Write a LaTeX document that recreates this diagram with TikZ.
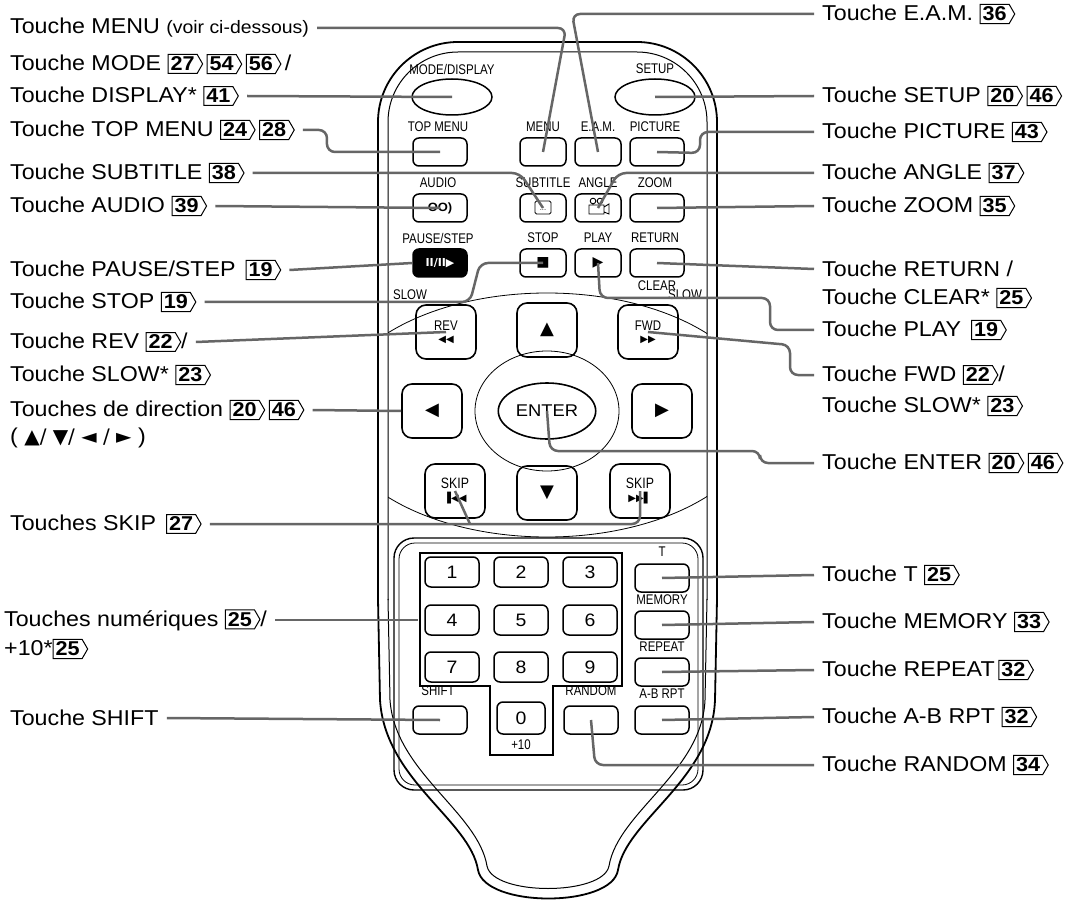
\documentclass[tikz,border=0pt]{standalone}
\usepackage{fontspec}
\setmainfont[FakeStretch=1.08]{Liberation Sans}
\newfontfamily\narrowf[FakeStretch=0.82]{Liberation Sans}
\newfontfamily\sym{DejaVu Sans}
\usetikzlibrary{shapes.symbols,shapes.geometric}
\newcommand{\pg}[1]{\tikz[baseline=(pp.base)]\node[signal,signal to=east,signal pointer angle=120,draw,line width=1pt,inner xsep=2.5pt,inner ysep=2.5pt,font=\bfseries\fontsize{20}{20}\selectfont] (pp) {#1};}
\begin{document}
\begin{tikzpicture}[x=1pt,y=-1pt,
  lab/.style={anchor=west,inner sep=0pt,font=\fontsize{21.5}{24}\selectfont},
  lead/.style={draw=black!60,line width=2.5pt,rounded corners=8pt},
  btn/.style={draw,line width=1.5pt,rounded corners=6pt,minimum width=54pt,minimum height=28pt,inner sep=0pt},
  sbtn/.style={btn,minimum width=46pt},
  oval/.style={draw,line width=1.5pt,ellipse,minimum width=80pt,minimum height=36pt},
  tl/.style={font=\narrowf\fontsize{14}{14}\selectfont,inner sep=0pt,yshift=3pt},
  pad/.style={draw,line width=1.6pt,rounded corners=10pt,minimum width=60pt,minimum height=54pt,inner sep=0pt,font=\sym\fontsize{18}{18}\selectfont},
  num/.style={btn,minimum width=54pt,minimum height=30pt,font=\fontsize{18}{18}\selectfont}]
\useasboundingbox[fill=white] (0,0) rectangle (1079,909);
% remote body
\draw[line width=1.8pt,rounded corners=80pt] (378,600) -- (378,42) -- (717,42) -- (717,600);
\draw[line width=1.8pt] (378,599) -- (380,700) .. controls (385,780) and (470,820) .. (478,870) .. controls (485,908) and (612,908) .. (618,870) .. controls (626,820) and (712,780) .. (715,700) -- (717,599);
\draw[line width=1pt,rounded corners=70pt] (388,600) -- (388,52) -- (707,52) -- (707,600);
\draw[line width=1pt] (388,599) -- (390,700) .. controls (395,772) and (478,812) .. (487,866) .. controls (493,896) and (603,896) .. (609,866) .. controls (618,812) and (702,772) .. (705,700) -- (707,599);
% d-pad region
\begin{scope}
\clip (388,52) rectangle (707,600);
\draw[line width=0.8pt] (547,415) ellipse (215pt and 122pt);
\end{scope}
\draw[line width=0.8pt] (547,411) ellipse (72pt and 60pt);
% top buttons
\node[tl] (tmode) at (452,72) {MODE/DISPLAY};
\node[oval] (bmode) at (452,97) {};
\node[tl] (tsetup) at (655,72) {SETUP};
\node[oval] (bsetup) at (655,97) {};
\node[tl] (ttop) at (438,130) {TOP MENU};
\node[btn] (btop) at (440,152) {};
\node[tl] (tmenu) at (543,130) {MENU};
\node[sbtn] (bmenu) at (543,152) {};
\node[tl] (team) at (598,130) {E.A.M.};
\node[sbtn] (beam) at (598,152) {};
\node[tl] (tpic) at (655,130) {PICTURE};
\node[btn] (bpic) at (657,152) {};
\node[tl] (taudio) at (438,186) {AUDIO};
\node[btn,font=\bfseries\fontsize{12}{12}\selectfont] (baudio) at (440,208) {OO)};
\node[tl] (tsub) at (543,186) {SUBTITLE};
\node[sbtn] (bsub) at (543,208) {};
\draw[line width=0.9pt,rounded corners=1.5pt] (535,201) rectangle (551,214);
\node[font=\fontsize{7}{7}\selectfont,inner sep=0pt] (dots) at (543,210) {...};
\node[tl] (tang) at (598,186) {ANGLE};
\node[sbtn] (bang) at (598,208) {};
\draw[line width=0.9pt] (589,205) rectangle (604,214) (593,201) circle (2.8pt) (600,201) circle (2.8pt) (604,207) -- (609,204) -- (609,214) -- (604,212);
\node[tl] (tzoom) at (655,186) {ZOOM};
\node[btn] (bzoom) at (657,208) {};
\node[tl] (tpause) at (438,241) {PAUSE/STEP};
\node[btn,fill=black,text=white,font=\sym\bfseries\fontsize{11}{11}\selectfont] (bpause) at (440,263) {II/II▶};
\node[tl] (tstop) at (543,241) {STOP};
\node[sbtn,font=\sym\fontsize{14}{14}\selectfont] (bstop) at (543,263) {■};
\node[tl] (tplay) at (598,241) {PLAY};
\node[sbtn,font=\sym\fontsize{14}{14}\selectfont] (bplay) at (598,263) {▶};
\node[tl] (tret) at (655,241) {RETURN};
\node[btn] (bret) at (657,263) {};
\node[tl] (tclr) at (657,289) {CLEAR};
% d-pad buttons
\node[tl] (tslowl) at (410,298) {SLOW};
\node[tl] (tslowr) at (685,298) {SLOW};
\node[pad,align=center,font=\narrowf\fontsize{14}{14}\selectfont] (brev) at (446,332) {REV\\[-2pt]{\sym\fontsize{10}{10}\selectfont ◀◀}};
\node[pad,align=center,font=\narrowf\fontsize{14}{14}\selectfont] (bfwd) at (648,332) {FWD\\[-2pt]{\sym\fontsize{10}{10}\selectfont ▶▶}};
\node[pad] (bup) at (547,330) {▲};
\node[pad] (bdown) at (547,493) {▼};
\node[pad] (bleft) at (432,411) {◀};
\node[pad] (bright) at (662,411) {▶};
\node[draw,line width=1.6pt,ellipse,minimum width=80pt,minimum height=56pt,font=\fontsize{17}{17}\selectfont] (benter) at (547,411) {ENTER};
\node[pad,align=center,font=\narrowf\fontsize{15}{15}\selectfont] (bskl) at (455,491) {SKIP\\[-2pt]{\sym\fontsize{10}{10}\selectfont ▐◀◀}};
\node[pad,align=center,font=\narrowf\fontsize{15}{15}\selectfont] (bskr) at (640,491) {SKIP\\[-2pt]{\sym\fontsize{10}{10}\selectfont ▶▶▌}};
% number block
\draw[line width=1.4pt,rounded corners=20pt] (394,538) rectangle (703,790);
\draw[line width=0.8pt,rounded corners=16pt] (399,543) rectangle (698,785);
\draw[line width=1.4pt] (420,553) -- (622,553) -- (622,686) -- (553,686) -- (553,755) -- (490,755) -- (490,686) -- (420,686) -- cycle;
\node[num] (n1) at (452,572) {1};
\node[num] (n2) at (521,572) {2};
\node[num] (n3) at (590,572) {3};
\node[num] (n4) at (452,620) {4};
\node[num] (n5) at (521,620) {5};
\node[num] (n6) at (590,620) {6};
\node[num] (n7) at (452,667) {7};
\node[num] (n8) at (521,667) {8};
\node[num] (n9) at (590,667) {9};
\node[btn,minimum width=48pt,minimum height=32pt,font=\fontsize{18}{18}\selectfont] (n0) at (521,718) {0};
\node[tl] (t10) at (521,748) {+10};
\node[tl] (tshift) at (438,694) {SHIFT};
\node[btn] (bshift) at (440,720) {};
\node[tl] (trand) at (591,694) {RANDOM};
\node[btn] (brand) at (591,720) {};
\node[tl] (tt) at (662,555) {T};
\node[btn] (bt) at (662,578) {};
\node[tl] (tmem) at (662,603) {MEMORY};
\node[btn] (bmem) at (662,625) {};
\node[tl] (trep) at (662,650) {REPEAT};
\node[btn] (brep) at (662,672) {};
\node[tl] (tab) at (662,697) {A-B RPT};
\node[btn] (bab) at (662,720) {};
% left labels
\node[lab] (l1) at (10,28) {Touche MENU {\fontsize{18}{18}\selectfont(voir ci-dessous)}};
\node[lab] (l2) at (10,64) {Touche MODE \pg{27}\,\pg{54}\,\pg{56}\,/};
\node[lab] (l2b) at (10,96) {Touche DISPLAY* \pg{41}};
\node[lab] (l3) at (10,130) {Touche TOP MENU \pg{24}\,\pg{28}};
\node[lab] (l4) at (10,173) {Touche SUBTITLE \pg{38}};
\node[lab] (l5) at (10,206) {Touche AUDIO \pg{39}};
\node[lab] (l6) at (10,270) {Touche PAUSE/STEP \,\pg{19}};
\node[lab] (l7) at (10,302) {Touche STOP \pg{19}};
\node[lab] (l8) at (10,342) {Touche REV \pg{22}/};
\node[lab] (l8b) at (10,375) {Touche SLOW* \pg{23}};
\node[lab] (l9) at (10,410) {Touches de direction \pg{20}\,\pg{46}};
\node[lab] (l9b) at (10,438) {( {\sym\fontsize{20}{20}\selectfont ▲/ ▼/ ◄ / ►} )};
\node[lab] (l10) at (10,524) {Touches SKIP \,\pg{27}};
\node[lab] (l11) at (4,620) {Touches numériques \pg{25}/};
\node[lab] (l11b) at (4,649) {+10*\pg{25}};
\node[lab] (l12) at (10,718) {Touche SHIFT};
% right labels
\node[lab] (r1) at (822,14) {Touche E.A.M. \pg{36}};
\node[lab] (r2) at (822,96) {Touche SETUP \pg{20}\,\pg{46}};
\node[lab] (r3) at (822,132) {Touche PICTURE \pg{43}};
\node[lab] (r4) at (822,173) {Touche ANGLE \pg{37}};
\node[lab] (r5) at (822,206) {Touche ZOOM \pg{35}};
\node[lab] (r6) at (822,269) {Touche RETURN /};
\node[lab] (r6b) at (822,298) {Touche CLEAR* \pg{25}};
\node[lab] (r7) at (822,330) {Touche PLAY \,\pg{19}};
\node[lab] (r8) at (822,375) {Touche FWD \pg{22}/};
\node[lab] (r8b) at (822,406) {Touche SLOW* \pg{23}};
\node[lab] (r9) at (822,463) {Touche ENTER \pg{20}\,\pg{46}};
\node[lab] (r10) at (822,575) {Touche T \pg{25}};
\node[lab] (r11) at (822,622) {Touche MEMORY \pg{33}};
\node[lab] (r12) at (822,670) {Touche REPEAT\,\pg{32}};
\node[lab] (r13) at (822,717) {Touche A-B RPT \pg{32}};
\node[lab] (r14) at (822,765) {Touche RANDOM \pg{34}};
% leaders
\coordinate (c1) at (566,28);
\draw[lead] ([xshift=8pt]l1.east) -- (c1) -- (bmenu.center);
\draw[lead] ([xshift=8pt]l2b.east) -- (bmode.center);
\draw[lead] ([xshift=8pt]l3.east) -- ++(24,0) -- ++(0,22) -- (btop.center);
\draw[lead] ([xshift=8pt]l4.east) -- (520,173) -- (bsub.center);
\draw[lead] ([xshift=8pt]l5.east) -- (baudio.center);
\draw[lead] ([xshift=8pt]l6.east) -- (bpause.west);
\draw[lead] ([xshift=8pt]l7.east) -- (470,302) -- (480,263) -- (bstop.center);
\draw[lead] ([xshift=8pt]l8.east) -- (brev.center);
\draw[lead] ([xshift=8pt]l9.east) -- (bleft.west);
\draw[lead] ([xshift=8pt]l10.east) -- (640,524) -- (bskr.center);
\draw[lead] (470,524) -- (bskl.center);
\draw[lead] ([xshift=8pt]l11.east) -- (418,620);
\draw[lead] ([xshift=8pt]l12.east) -- (bshift.center);
\draw[lead] ([xshift=-8pt]r1.west) -- (572,14) -- (beam.center);
\draw[lead] ([xshift=-8pt]r2.west) -- (bsetup.center);
\draw[lead] ([xshift=-8pt]r3.west) -- (700,132) -- (700,153) -- (bpic.center);
\draw[lead] ([xshift=-8pt]r4.west) -- (618,173) -- (bang.center);
\draw[lead] ([xshift=-8pt]r5.west) -- (bzoom.center);
\draw[lead] ([xshift=-8pt]r6.west) -- (bret.center);
\draw[lead] ([xshift=-8pt]r7.west) -- (770,330) -- (770,298) -- (600,298) -- (bplay.center);
\draw[lead] ([xshift=-8pt]r8.west) -- (790,375) -- (790,345) -- (bfwd.center);
\draw[lead] ([xshift=-8pt]r9.west) -- (760,463) -- (760,451) -- (550,451) -- (benter.center);
\draw[lead] ([xshift=-8pt]r10.west) -- (bt.center);
\draw[lead] ([xshift=-8pt]r11.west) -- (bmem.center);
\draw[lead] ([xshift=-8pt]r12.west) -- (brep.center);
\draw[lead] ([xshift=-8pt]r13.west) -- (bab.center);
\draw[lead] ([xshift=-8pt]r14.west) -- (595,765) -- (brand.center);
\end{tikzpicture}
\end{document}
